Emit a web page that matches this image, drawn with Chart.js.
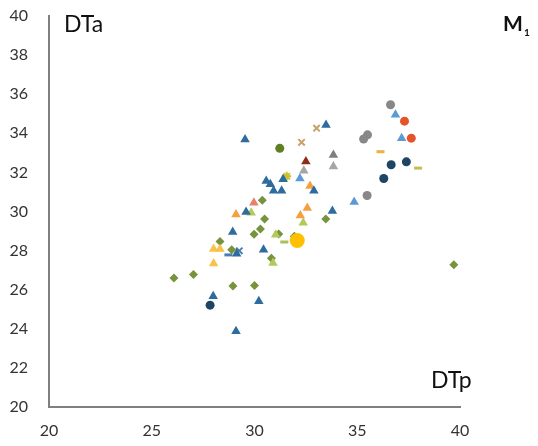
<!DOCTYPE html>
<html>
<head>
<meta charset="utf-8">
<script src="https://cdn.jsdelivr.net/npm/chart.js@4"></script>
<style>
  html, body { margin: 0; padding: 0; background: #fff; }
  #wrap { width: 538px; height: 446px; }
</style>
</head>
<body>
<div id="wrap"><canvas id="chart" width="538" height="446"></canvas></div>
<script>
// axis ticks
const xTicks = [20, 25, 30, 35, 40];
const yTicks = [20, 22, 24, 26, 28, 30, 32, 34, 36, 38, 40];

// series, [DTp, DTa]
const blueTri = [
    [29.54, 33.68], [33.48, 34.43], [30.57, 31.56], [30.77, 31.39], [30.93, 31.06],
    [31.32, 31.06], [31.39, 31.65], [32.89, 31.06], [29.59, 29.97], [33.79, 30.02],
    [28.94, 28.95], [30.44, 28.04], [29.13, 27.84], [27.99, 25.67], [30.21, 25.41],
    [29.10, 23.87]
];
const lightBlueTri = [[32.21, 31.69], [34.85, 30.48], [36.86, 34.95], [37.16, 33.75]];
const navyDots = [[27.84, 25.21], [36.65, 32.39], [37.39, 32.54], [36.29, 31.69]];
const grayDots = [[36.62, 35.46], [35.31, 33.71], [35.50, 33.92], [35.48, 30.82]];
const redDots = [[37.30, 34.62], [37.63, 33.75]];
const oliveDiamonds = [
    [30.38, 30.58], [30.49, 29.62], [30.29, 29.11], [29.98, 28.84], [31.18, 28.85],
    [31.94, 28.73], [33.47, 29.62], [28.32, 28.47], [28.89, 28.04], [30.82, 27.61],
    [28.95, 26.19], [30.00, 26.21], [26.08, 26.60], [27.03, 26.78], [39.70, 27.27]
];
const orangeTri = [[32.70, 31.30], [29.10, 29.85], [32.57, 30.18], [32.23, 29.79]];
const yellowTri = [[28.01, 28.08], [28.32, 28.08], [28.01, 27.34]];
const limeTri = [[29.84, 29.93], [32.37, 29.42], [31.03, 28.81], [30.90, 27.37]];
const salmonTri = [[29.97, 30.45]];
const darkRedTri = [[32.50, 32.56]];
const darkGrayTri = [[33.84, 32.89]];
const lightGrayTri = [[32.40, 32.08], [33.84, 32.30]];
const tanCross = [[33.02, 34.26], [32.29, 33.54]];
const yellowStar = [[31.57, 31.80]];
const darkOliveDot = [[31.23, 33.23]];
const bigYellowDot = [[32.08, 28.52]];
const orangeDash = [[36.13, 33.06]];
const khakiDash = [[37.96, 32.22]];
const limeDash = [[31.45, 28.44]];
const blueDash = [[28.73, 27.78]];
const blueCross = [[29.26, 27.99]];

function pts(arr) {
    return arr.map(p => ({ x: p[0], y: p[1] }));
}

function filled(arr, style, color, r) {
    return {
        data: pts(arr),
        pointStyle: style,
        pointRadius: r,
        backgroundColor: color,
        borderColor: color,
        borderWidth: 0
    };
}

function stroked(arr, style, color, r, w) {
    return {
        data: pts(arr),
        pointStyle: style,
        pointRadius: r,
        backgroundColor: color,
        borderColor: color,
        borderWidth: w
    };
}

// labels drawn straight onto the canvas
const textPlugin = {
    id: 'axisText',
    afterDraw(chart) {
        const ctx = chart.ctx;
        ctx.save();
        ctx.fillStyle = '#111';
        ctx.textBaseline = 'alphabetic';
        ctx.font = '23px Lato';
        ctx.fillText('DTa', 64, 32);
        ctx.fillText('DTp', 431, 388);
        ctx.font = 'bold 21px Lato';
        ctx.fillText('M', 503, 31);
        ctx.font = 'bold 10px Lato';
        ctx.fillText('1', 524, 36);
        ctx.restore();
    }
};

new Chart(document.getElementById('chart'), {
    type: 'scatter',
    data: {
        datasets: [
            filled(bigYellowDot, 'circle', '#FFC000', 7.5),
            filled(blueTri, 'triangle', '#2E6B9E', 5.5),
            filled(lightBlueTri, 'triangle', '#5B9BD5', 5.5),
            filled(orangeTri, 'triangle', '#F5A040', 5.5),
            filled(yellowTri, 'triangle', '#F9C24A', 5.5),
            filled(limeTri, 'triangle', '#B3C95A', 5.5),
            filled(salmonTri, 'triangle', '#E9806A', 5.5),
            filled(darkRedTri, 'triangle', '#8E2B1A', 5.5),
            filled(lightGrayTri, 'triangle', '#A6A6A6', 5.5),
            filled(darkGrayTri, 'triangle', '#7F7F7F', 5.5),
            filled(navyDots, 'circle', '#1F4565', 4.5),
            filled(grayDots, 'circle', '#888888', 4.5),
            filled(redDots, 'circle', '#E5532B', 4.5),
            filled(darkOliveDot, 'circle', '#5E7F22', 4.5),
            filled(oliveDiamonds, 'rectRot', '#77933C', 4.5),
            stroked(tanCross, 'crossRot', '#C8A06A', 4.5, 2),
            stroked(yellowStar, 'star', '#C9C12E', 4.5, 2),
            stroked(orangeDash, 'line', '#F0B040', 4, 3),
            stroked(khakiDash, 'line', '#C0C050', 4, 3),
            stroked(limeDash, 'line', '#A9C15A', 4, 3),
            stroked(blueDash, 'line', '#4A7FB5', 4, 3),
            stroked(blueCross, 'crossRot', '#4A7FB5', 4.5, 2)
        ]
    },
    options: {
        responsive: false,
        animation: false,
        layout: { padding: { top: 16, right: 78, left: 0, bottom: 0 } },
        plugins: {
            legend: { display: false },
            tooltip: { enabled: false }
        },
        scales: {
            x: {
                type: 'linear',
                min: 20,
                max: 40,
                afterFit: s => { s.height = 39; s.paddingLeft = 0; s.paddingRight = 0; },
                afterBuildTicks: s => { s.ticks = xTicks.map(v => ({ value: v })); },
                grid: { display: false, drawTicks: false },
                border: { display: true, color: '#7F7F7F', width: 2 },
                ticks: { color: '#333', font: { family: 'Lato', size: 16 }, padding: 14 }
            },
            y: {
                type: 'linear',
                min: 20,
                max: 40,
                afterFit: s => { s.width = 49; s.paddingTop = 0; s.paddingBottom = 0; },
                afterBuildTicks: s => { s.ticks = yTicks.map(v => ({ value: v })); },
                grid: { display: false, drawTicks: false },
                border: { display: true, color: '#7F7F7F', width: 2 },
                ticks: { color: '#333', font: { family: 'Lato', size: 16 }, padding: 21 }
            }
        }
    },
    plugins: [textPlugin]
});
</script>
</body>
</html>
